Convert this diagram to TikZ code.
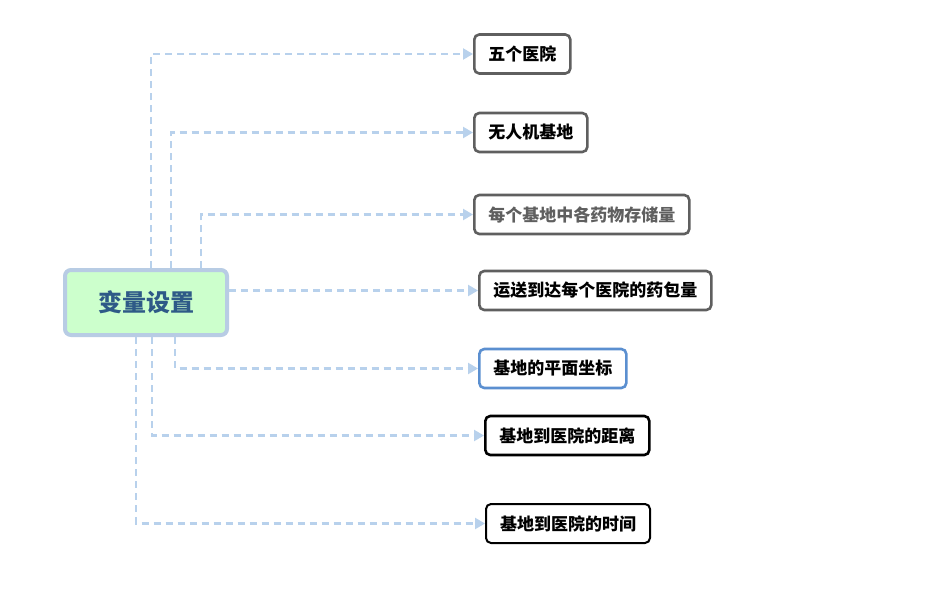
\documentclass[tikz,border=0pt]{standalone}
\usepackage{fontspec}
\setmainfont{Noto Sans CJK SC}
\usepackage{xcolor}
\definecolor{linkblue}{HTML}{B8D1EC}
\definecolor{rootgreen}{HTML}{CCFFCC}
\definecolor{rootedge}{HTML}{B8CCE4}
\definecolor{roottext}{HTML}{2E5A87}
\definecolor{leafgray}{HTML}{5F5F5F}
\definecolor{leafblue}{HTML}{5B8FD0}
\usetikzlibrary{arrows.meta,positioning,calc}

\begin{document}
\begin{tikzpicture}[x=1pt, y=-1pt,
      root/.style={draw=rootedge, line width=4pt, rounded corners=6pt, fill=rootgreen, minimum width=162pt, minimum height=65pt, font=\fontsize{24}{27}\selectfont\bfseries, text=roottext},
      leaf/.style={draw=leafgray, line width=2.6pt, rounded corners=5pt, fill=white, minimum height=39pt, inner xsep=14pt, anchor=west, font=\fontsize{17}{19}\selectfont\bfseries},
      link/.style={draw=linkblue, line width=2.2pt, dash pattern=on 7pt off 5pt, -{Triangle[length=10pt, width=11pt, fill=linkblue]}}
    ]
    \useasboundingbox[fill=white] (0,0) rectangle (935,589);
    \node[root] (vars) at (146,302.5) {变量设置};
    \node[leaf] (hosp) at (473,54) {五个医院};
    \node[leaf] (base) at (473,132.5) {无人机基地};
    \node[leaf, text=leafgray] (stock) at (473,214.5) {每个基地中各药物存储量};
    \node[leaf] (pack) at (478,290.5) {运送到达每个医院的药包量};
    \node[leaf, draw=leafblue] (coord) at (478,368.5) {基地的平面坐标};
    \node[leaf, draw=black] (dist) at (484,435.5) {基地到医院的距离};
    \node[leaf, draw=black, line width=2pt] (time) at (485,523.5) {基地到医院的时间};

    \draw[link] ([xshift=5pt]vars.north) |- (hosp.west);
    \draw[link] ([xshift=25pt]vars.north) |- (base.west);
    \draw[link] ([xshift=55pt]vars.north) |- (stock.west);
    \draw[link] (vars.east |- pack.west) -- (pack.west);
    \draw[link] ([xshift=29pt]vars.south) |- (coord.west);
    \draw[link] ([xshift=6pt]vars.south) |- (dist.west);
    \draw[link] ([xshift=-10pt]vars.south) |- (time.west);
  \end{tikzpicture}
\end{document}
